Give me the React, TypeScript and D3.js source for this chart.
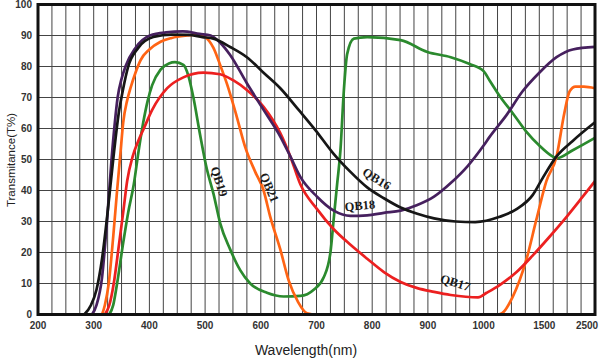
import React from "react";
import * as d3 from "d3";

// wavelength (nm), transmittance (%)
const qb16: [number, number][] = [
  [283, 0], [295, 3], [305, 8], [315, 18], [325, 33], [335, 50], [345, 65], [352, 72],
  [362, 80], [380, 86], [407, 89.5], [440, 90.3], [470, 90.2], [495, 89.5], [515, 89],
  [545, 86.3], [575, 83], [605, 78], [635, 73], [668, 66], [698, 59.5], [730, 52],
  [761, 46], [791, 41], [821, 37.5], [851, 34.5], [881, 32.5], [911, 31], [950, 30],
  [985, 29.8], [1144, 31.5], [1296, 34], [1440, 38.5], [1560, 44], [1810, 51],
  [2100, 56], [2500, 62],
];
const qb18: [number, number][] = [
  [297, 0], [305, 3], [315, 12], [323, 28], [332, 50], [338, 62], [343, 70], [350, 76],
  [357, 80], [375, 86], [401, 90], [430, 91], [460, 91.3], [490, 90.5], [510, 90],
  [528, 87.5], [545, 83.7], [575, 74.6], [605, 66], [635, 57.4], [653, 51], [671, 44.4],
  [701, 38], [731, 33.5], [761, 31.8], [791, 32], [821, 32.8], [851, 33.5], [881, 35.3],
  [911, 38], [941, 42.4], [971, 47.8], [1000, 54.5], [1054, 57.3], [1207, 64.4], [1350, 72],
  [1500, 78], [1810, 83], [2100, 85.5], [2500, 86.3],
];
const qb17: [number, number][] = [
  [320, 0], [328, 3], [336, 10], [345, 22], [353, 33], [360, 43], [370, 51], [380, 56],
  [390, 60], [405, 66], [432, 73], [461, 76.5], [497, 78], [527, 77.5], [551, 75.5],
  [575, 72.4], [605, 67], [635, 58.5], [653, 51], [671, 42], [701, 34], [731, 27.5],
  [761, 22.5], [791, 18], [821, 13.7], [851, 10.5], [881, 8.5], [911, 7.3], [941, 6.3],
  [990, 5.5], [1027, 7], [1144, 9.5], [1296, 13.7], [1440, 19], [1680, 25], [1990, 31.5],
  [2280, 38], [2500, 43],
];
const qb19: [number, number][] = [
  [328, 0], [335, 3], [342, 10], [352, 22], [362, 33], [372, 42], [380, 52], [389, 62],
  [397, 69], [405, 74], [420, 79], [435, 81], [446, 81.4], [461, 80.5], [470, 77],
  [479, 70], [491, 58], [503, 47], [515, 39], [527, 29.5], [545, 21], [563, 14.3],
  [581, 10], [611, 7], [641, 5.8], [671, 6], [695, 8], [713, 12], [725, 20], [731, 31],
  [737, 42], [743, 53], [749, 72], [755, 84], [767, 89], [791, 89.5], [851, 88.5],
  [899, 84.7], [941, 83], [975, 80.8], [1000, 78.5], [1054, 75.5], [1144, 70.5],
  [1260, 65], [1383, 59], [1500, 54.5], [1736, 51], [1810, 50.4], [2100, 53], [2500, 57],
];
const qb21: [number, number][] = [
  [315, 0], [320, 3], [327, 10], [335, 25], [342, 40], [348, 52], [353, 62], [360, 69],
  [366, 73], [375, 78], [384, 82], [400, 85.5], [420, 88], [440, 89.2], [468, 90],
  [485, 90.3], [500, 89.5], [515, 86], [528, 80], [540, 74], [557, 63.7], [572, 54],
  [590, 46], [605, 40], [617, 31.5], [635, 21], [650, 11], [667, 4], [683, 0.4],
  [700, 0], [1000, 0], [1130, 0], [1170, 0.5], [1260, 5.6], [1383, 17.6], [1473, 30.5],
  [1627, 43], [1810, 51], [1950, 65], [2045, 72], [2150, 73.5], [2300, 73.5], [2500, 73],
];

const xTicks = [200, 300, 400, 500, 600, 700, 800, 900, 1000, 1500, 2500];
const yTicks = [0, 10, 20, 30, 40, 50, 60, 70, 80, 90, 100];

const W = 600, H = 363;
const left = 38, right = 595, top = 4.5, bottom = 314.5;
const u = (right - left) / 10;

const x = d3.scaleLinear()
  .domain([200, 1000, 1500, 2500])
  .range([left, left + 8 * u, left + 9 * u, right]);
const y = d3.scaleLinear().domain([0, 100]).range([bottom, top]);

// grid every 25nm up to 1000, then 4 lines per labelled step
const xGrid = [
  ...d3.range(200, 1000, 25),
  ...d3.range(1000, 1500, 125),
  ...d3.range(1500, 2501, 250),
];

const line = d3.line<[number, number]>()
  .x(d => x(d[0]))
  .y(d => y(d[1]))
  .curve(d3.curveMonotoneX);

const series = [
  { data: qb19, color: "#2b8a2e" },
  { data: qb21, color: "#ff6414" },
  { data: qb17, color: "#ec2020" },
  { data: qb18, color: "#46205e" },
  { data: qb16, color: "#161616" },
];

const labels = [
  { text: "QB19", x: 218, y: 182, r: 72 },
  { text: "QB21", x: 268, y: 188, r: 67 },
  { text: "QB16", x: 376, y: 180, r: 32 },
  { text: "QB18", x: 360, y: 207, r: -5 },
  { text: "QB17", x: 455, y: 284, r: 17 },
];

// the scan puts the last two labels a little right / left of their lines
const tickNudge: Record<number, number> = { 1500: 5, 2500: -8 };

export default function App() {
  return (
    <svg width={W} height={H} style={{ position: "absolute", left: 0, top: 0, background: "#fff" }}>
      <g stroke="#444" strokeWidth={1}>
        {xGrid.map(v => (
          <line key={"gx" + v} x1={x(v)} x2={x(v)} y1={top} y2={bottom} />
        ))}
        {yTicks.map(v => (
          <line key={"gy" + v} x1={left} x2={right} y1={y(v)} y2={y(v)} />
        ))}
      </g>
      {series.map((s, i) => (
        <path key={i} d={line(s.data) || ""} fill="none" stroke={s.color} strokeWidth={2.7} />
      ))}
      <rect x={left} y={top} width={right - left} height={bottom - top}
        fill="none" stroke="#111" strokeWidth={3} />
      <g fontFamily="Liberation Sans, Arial, sans-serif" fontSize={10} fontWeight="bold" fill="#333">
        {yTicks.map(v => (
          <text key={"ty" + v} x={left - 6} y={y(v) + 3.5} textAnchor="end">{v}</text>
        ))}
        {xTicks.map(v => (
          <text key={"tx" + v} x={x(v) + (tickNudge[v] || 0)} y={329} textAnchor="middle">{v}</text>
        ))}
      </g>
      <text transform="translate(15,160) rotate(-90)" textAnchor="middle"
        fontFamily="Liberation Sans, Arial, sans-serif" fontSize={11.5} fill="#222">
        Transmitance(T%)
      </text>
      <text x={306} y={355} textAnchor="middle"
        fontFamily="Liberation Sans, Arial, sans-serif" fontSize={14} fill="#222">
        Wavelength(nm)
      </text>
      <g fontFamily="Liberation Serif, Times New Roman, serif" fontSize={12.5} fontWeight="bold" fill="#1a1a1a">
        {labels.map(l => (
          <text key={l.text} transform={`translate(${l.x},${l.y}) rotate(${l.r})`}
            textAnchor="middle" dominantBaseline="middle">{l.text}</text>
        ))}
      </g>
    </svg>
  );
}
